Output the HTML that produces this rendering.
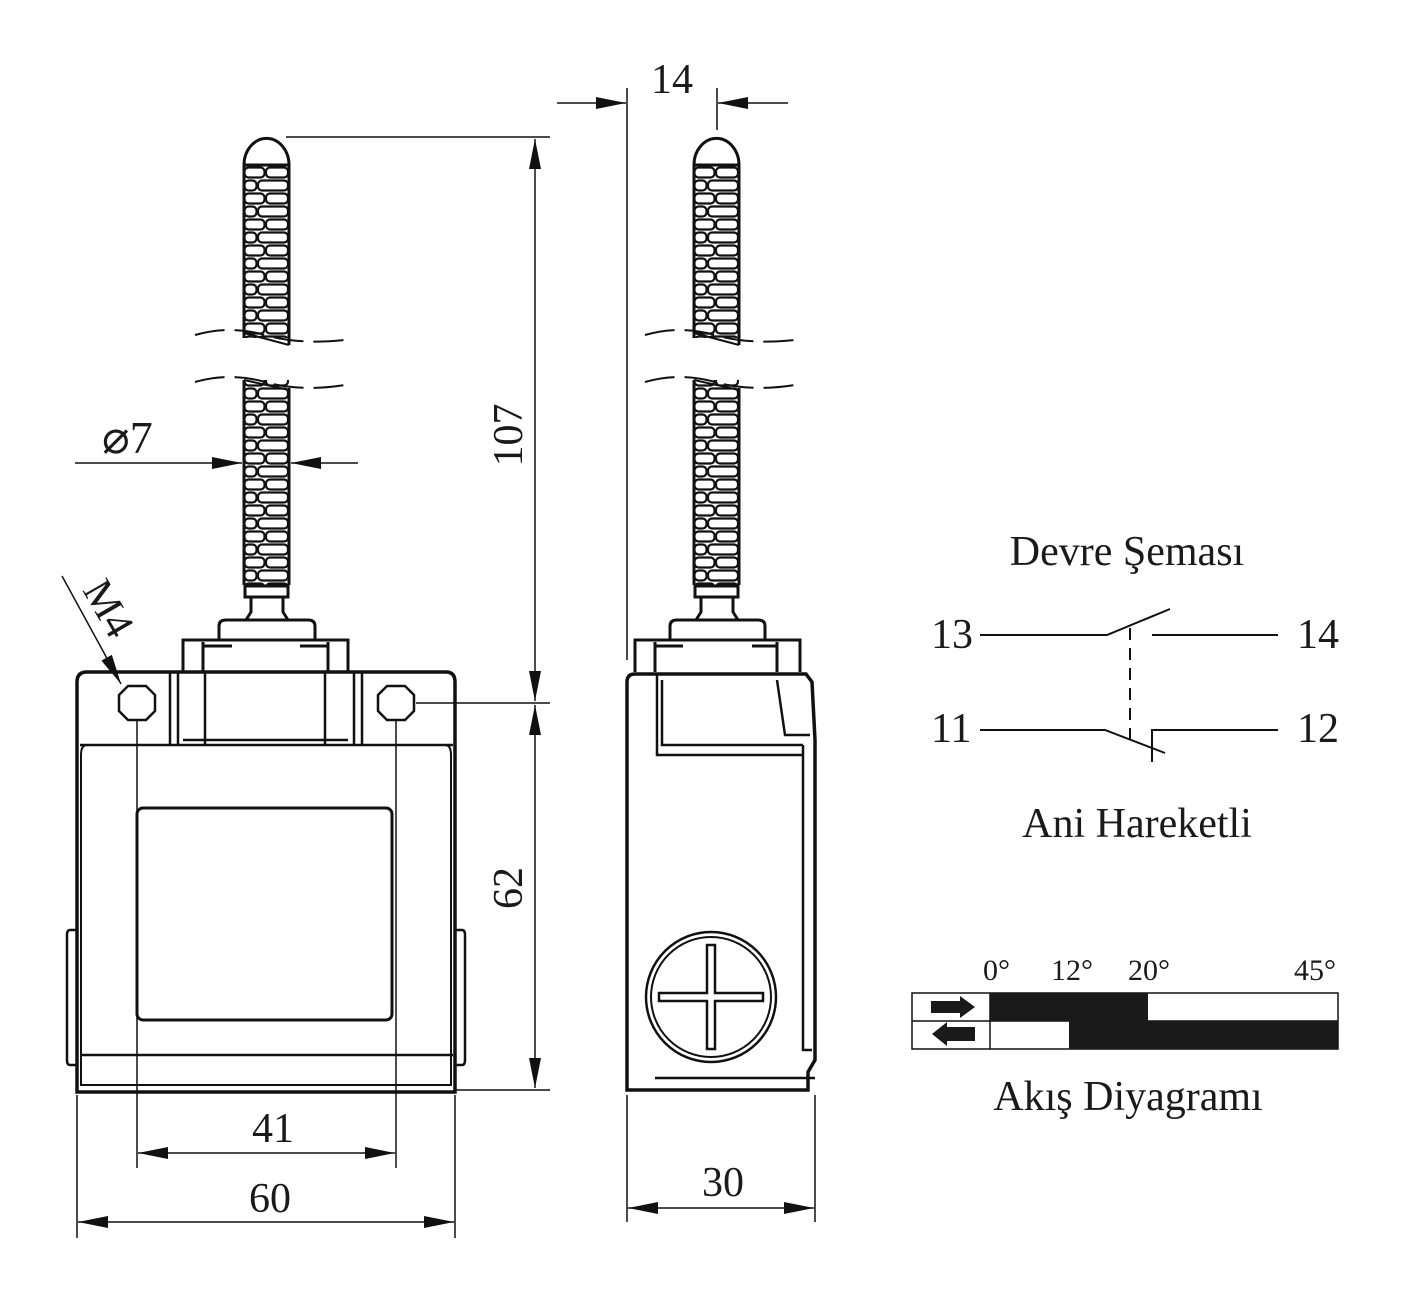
<!DOCTYPE html>
<html><head><meta charset="utf-8"><style>
html,body{margin:0;padding:0;background:#fff}
svg{display:block}
text{font-family:"Liberation Serif",serif;fill:#1a1a1a}
</style></head><body>
<svg width="1405" height="1302" viewBox="0 0 1405 1302" xmlns="http://www.w3.org/2000/svg">
<defs>
<pattern id="spL" x="243" y="166" width="47" height="26" patternUnits="userSpaceOnUse">
<rect x="1.5" y="1.5" width="20" height="10" rx="4" fill="#fff" stroke="#111" stroke-width="2.2"/>
<rect x="23" y="1.5" width="22" height="10" rx="4" fill="#fff" stroke="#111" stroke-width="2.2"/>
<rect x="1.5" y="14.5" width="12" height="10" rx="4" fill="#fff" stroke="#111" stroke-width="2.2"/>
<rect x="15" y="14.5" width="30" height="10" rx="4" fill="#fff" stroke="#111" stroke-width="2.2"/>
</pattern>
<pattern id="spR" x="693" y="166" width="47" height="26" patternUnits="userSpaceOnUse">
<rect x="1.5" y="1.5" width="20" height="10" rx="4" fill="#fff" stroke="#111" stroke-width="2.2"/>
<rect x="23" y="1.5" width="22" height="10" rx="4" fill="#fff" stroke="#111" stroke-width="2.2"/>
<rect x="1.5" y="14.5" width="12" height="10" rx="4" fill="#fff" stroke="#111" stroke-width="2.2"/>
<rect x="15" y="14.5" width="30" height="10" rx="4" fill="#fff" stroke="#111" stroke-width="2.2"/>
</pattern>
<marker id="ar" viewBox="0 0 30 12" refX="30" refY="6" markerWidth="30" markerHeight="12" markerUnits="userSpaceOnUse" orient="auto-start-reverse"><path d="M0,0 L30,6 L0,12z" fill="#111"/></marker>
</defs>
<g fill="none" stroke="#111" stroke-width="3">
<!-- LEFT VIEW spring -->
<path d="M244,165 A22,26 0 0 1 289,165 Z" fill="#fff"/>
<rect x="244" y="166" width="45" height="172" fill="url(#spL)" stroke="none"/>
<line x1="244" y1="166" x2="244" y2="338"/><line x1="289" y1="166" x2="289" y2="345"/>
<rect x="244" y="380" width="45" height="205" fill="url(#spL)" stroke="none"/>
<line x1="244" y1="380" x2="244" y2="585"/><line x1="289" y1="388" x2="289" y2="585"/>
<path d="M244,333 L289,345 M244,380 L289,390" stroke-width="2"/>
<g stroke-width="2" stroke-dasharray="30,10"><path d="M195,335 Q230,325 265,335 T345,340"/><path d="M195,382 Q230,372 265,382 T345,385"/></g>
<rect x="245" y="586" width="43" height="11"/>
<path d="M251,597 V612 L246,620 M283,597 V612 L288,620"/>
<path d="M219,640 V626 Q219,620 226,620 H308 Q315,620 315,626 V640"/>
<path d="M183,672 V640 H348 V672 M203,642 V672 M328,642 V672 M203,646 H232 M328,646 H300"/>
<!-- body -->
<path d="M77,1092 V682 Q77,672 87,672 H446 Q455,672 455,682 V1092 Z" stroke-width="3.5"/>
<path d="M80,745 H453 M80,1055 H453" stroke-width="2.5"/>
<path d="M87,745 Q81,745 81,755 V1085 H451 V755 Q451,745 445,745" stroke-width="2"/>
<path d="M170,672 V745 M178,672 V745 M354,672 V745 M362,672 V745 M205,672 V745 M325,672 V745 M183,740 H348" stroke-width="2.5"/>
<rect x="137" y="808" width="255" height="212" rx="6" stroke-width="3"/>
<path d="M77,930 H70 Q67,930 67,935 V1060 Q67,1065 70,1065 H77 M455,930 H462 Q465,930 465,935 V1060 Q465,1065 462,1065 H455" stroke-width="2.5"/>
<path d="M128,686 H146 L155,695 V711 L146,720 H128 L119,711 V695 Z" fill="#fff" stroke-width="2.5"/>
<path d="M387,686 H405 L414,695 V711 L405,720 H387 L378,711 V695 Z" fill="#fff" stroke-width="2.5"/>
<!-- RIGHT VIEW spring -->
<path d="M694,165 A22,26 0 0 1 739,165 Z" fill="#fff"/>
<rect x="694" y="166" width="45" height="172" fill="url(#spR)" stroke="none"/>
<line x1="694" y1="166" x2="694" y2="338"/><line x1="739" y1="166" x2="739" y2="345"/>
<rect x="694" y="380" width="45" height="205" fill="url(#spR)" stroke="none"/>
<line x1="694" y1="380" x2="694" y2="585"/><line x1="739" y1="388" x2="739" y2="585"/>
<path d="M694,333 L739,345 M694,380 L739,390" stroke-width="2"/>
<g stroke-width="2" stroke-dasharray="30,10"><path d="M645,335 Q680,325 715,335 T795,340"/><path d="M645,382 Q680,372 715,382 T795,385"/></g>
<rect x="695" y="586" width="43" height="11"/>
<path d="M701,597 V612 L696,620 M733,597 V612 L738,620"/>
<path d="M670,640 V626 Q670,620 677,620 H758 Q765,620 765,626 V640"/>
<path d="M635,672 V640 H800 V672 M655,642 V672 M777,642 V672 M655,646 H683 M777,646 H752"/>
<path d="M627,1090 V682 Q627,674 635,674 H806 L812,682 L815,740 V1060 L808,1072 V1090 Z" stroke-width="3.5"/>
<path d="M657,674 V755 H803 M662,680 V745 H803 M777,680 L785,735 H810 M655,1078 H815" stroke-width="2.5"/>
<path d="M803,745 V1050 H812" stroke-width="2.5"/>
<circle cx="711" cy="997" r="65" stroke-width="2.5"/><circle cx="711" cy="997" r="60" stroke-width="2"/>
<path d="M707,945 H715 V993 H763 V1001 H715 V1049 H707 V1001 H659 V993 H707 Z" stroke-width="2.5"/>
<!-- dimension lines -->
<g stroke-width="1.5">
<line x1="286" y1="137" x2="550" y2="137"/>
<line x1="416" y1="703" x2="550" y2="703"/>
<line x1="455" y1="1090" x2="550" y2="1090"/>
<line x1="535" y1="139" x2="535" y2="701" marker-start="url(#ar)" marker-end="url(#ar)"/>
<line x1="535" y1="705" x2="535" y2="1088" marker-start="url(#ar)" marker-end="url(#ar)"/>
<line x1="75" y1="463" x2="242" y2="463" marker-end="url(#ar)"/>
<line x1="358" y1="463" x2="291" y2="463" marker-end="url(#ar)"/>
<line x1="137" y1="720" x2="137" y2="1168"/><line x1="396" y1="720" x2="396" y2="1168"/>
<line x1="138" y1="1153" x2="395" y2="1153" marker-start="url(#ar)" marker-end="url(#ar)"/>
<line x1="77" y1="1095" x2="77" y2="1238"/><line x1="455" y1="1095" x2="455" y2="1238"/>
<line x1="78" y1="1222" x2="454" y2="1222" marker-start="url(#ar)" marker-end="url(#ar)"/>
<line x1="627" y1="1095" x2="627" y2="1222"/><line x1="815" y1="1095" x2="815" y2="1222"/>
<line x1="628" y1="1208" x2="814" y2="1208" marker-start="url(#ar)" marker-end="url(#ar)"/>
<line x1="627" y1="88" x2="627" y2="660"/><line x1="717" y1="88" x2="717" y2="130"/>
<line x1="557" y1="103" x2="626" y2="103" marker-end="url(#ar)"/>
<line x1="788" y1="103" x2="718" y2="103" marker-end="url(#ar)"/>
<line x1="62" y1="576" x2="121" y2="684" marker-end="url(#ar)"/>
</g>
<!-- schematic -->
<g stroke-width="2">
<path d="M980,635 H1107 L1170,609 M1152,635 H1278 M980,730 H1105 L1165,753 M1152,762 V730 H1278"/>
<line x1="1130" y1="628" x2="1130" y2="748" stroke-dasharray="12,8"/>
</g>
<!-- flow -->
<rect x="912" y="993" width="426" height="56" stroke-width="1.5"/>
<line x1="912" y1="1021" x2="1338" y2="1021" stroke-width="1.5"/>
<line x1="990" y1="993" x2="990" y2="1049" stroke-width="1.5"/>
</g>
<g fill="#1a1a1a">
<rect x="990" y="993" width="158" height="28"/>
<rect x="1069" y="1021" width="269" height="28"/>
<path d="M931,1001 H960 V996 L975,1007 L960,1018 V1013 H931 Z"/>
<path d="M975,1027 H947 V1022 L932,1034 L947,1046 V1041 H975 Z"/>
</g>
<g font-size="42">
<text x="672" y="93" text-anchor="middle">14</text>
<text x="273" y="1142" text-anchor="middle">41</text>
<text x="270" y="1212" text-anchor="middle">60</text>
<text x="723" y="1196" text-anchor="middle">30</text>
<text transform="translate(522,435) rotate(-90)" text-anchor="middle">107</text>
<text transform="translate(522,888) rotate(-90)" text-anchor="middle">62</text>
<text x="102" y="453" font-size="46">⌀7</text>
<text transform="translate(82,590) rotate(60)">M4</text>
<text x="1127" y="565" text-anchor="middle">Devre Şeması</text>
<text x="1137" y="837" text-anchor="middle">Ani Hareketli</text>
<text x="1128" y="1110" text-anchor="middle">Akış Diyagramı</text>
<text x="931" y="648">13</text>
<text x="1297" y="648">14</text>
<text x="931" y="742">11</text>
<text x="1297" y="742">12</text>
</g>
<g font-size="30">
<text x="983" y="980">0°</text>
<text x="1051" y="980">12°</text>
<text x="1128" y="980">20°</text>
<text x="1294" y="980">45°</text>
</g>
</svg>
</body></html>
